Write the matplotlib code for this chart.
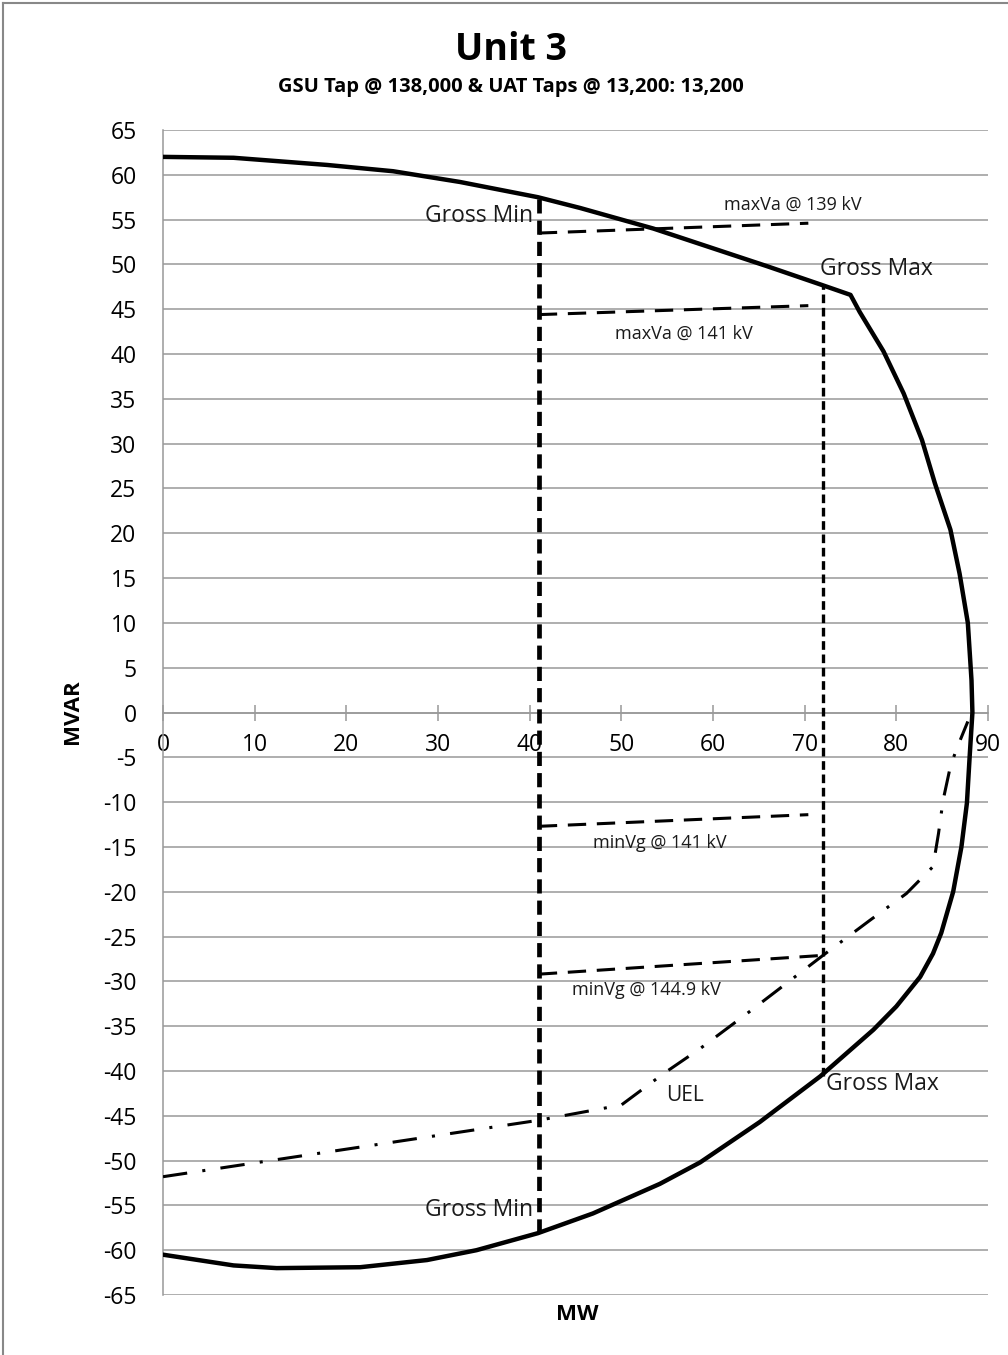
import matplotlib.pyplot as plt
from matplotlib.lines import Line2D
import numpy as np

plt.rcParams['font.family'] = ['Open Sans', 'DejaVu Sans']
plt.rcParams['axes.unicode_minus'] = False

# --- data ---
# capability curve (MW, MVAR)
cap_mw = [0, 7.7, 17.9, 25.1, 32.4, 40.9, 45.5, 53.5, 65.9, 71.9, 75.0,
          76.0, 78.6, 80.8, 82.8, 84.2, 85.9, 86.9, 87.8, 88.2, 88.3,
          88.0, 87.7, 87.1, 86.2, 84.9, 84.0, 82.6, 80.0, 77.5, 74.6, 71.7,
          65.1, 58.6, 54.2, 46.9, 40.9, 34.2, 28.8, 21.5, 12.4, 7.7, 0]
cap_mvar = [62.0, 61.9, 61.1, 60.4, 59.2, 57.5, 56.3, 54.0, 49.8, 47.7, 46.6,
            44.7, 40.3, 35.6, 30.4, 25.6, 20.4, 15.5, 10.0, 3.6, 0,
            -4.9, -10.1, -15.0, -20.0, -24.6, -26.9, -29.5, -32.8, -35.4, -38.0, -40.6,
            -45.7, -50.2, -52.6, -55.9, -58.1, -60.0, -61.1, -61.9, -62.0, -61.7, -60.5]

# under-excitation limit
uel_mw = [0, 41, 50, 54.6, 58.6, 63.7, 72, 77.1, 81.1, 84.0, 84.6, 85.1, 85.9, 86.6, 87.8]
uel_mvar = [-51.8, -45.5, -43.8, -40.3, -37.5, -33.6, -27.1, -23.2, -20.2, -17.2,
            -13.5, -9.8, -6.0, -4.0, -1.0]

gross_min_mw = 41
gross_min_q = [-58.1, 57.5]
gross_max_mw = 72
gross_max_q = [-40.6, 47.7]

maxva139_mw, maxva139_q = [41, 70.4], [53.5, 54.6]
maxva141_mw, maxva141_q = [41, 70.4], [44.4, 45.4]
minvg141_mw, minvg141_q = [41, 70.4], [-12.7, -11.4]
minvg1449_mw, minvg1449_q = [41, 72], [-29.2, -27.1]

W, H = 1008, 1355
fig = plt.figure(figsize=(W / 100, H / 100), dpi=100)
ax = fig.add_axes([163 / W, 1 - 1295 / H, (988 - 163) / W, (1295 - 130) / H])

grid_c = '#999999'
for yv in range(-65, 66, 5):
    ax.axhline(yv, color=grid_c, lw=1.1, zorder=1)

ax.plot(cap_mw, cap_mvar, color='black', lw=3.2, zorder=5)
ax.plot(uel_mw, uel_mvar, color='black', lw=2.2, dashes=(8, 5, 1, 5), zorder=4)

ax.plot([gross_min_mw] * 2, gross_min_q, color='black', lw=3.4, dashes=(3, 1.5), zorder=4)
ax.plot([gross_max_mw] * 2, gross_max_q, color='black', lw=2.4, dashes=(2.6, 1.4), zorder=4)

for xs, ys in [(maxva139_mw, maxva139_q), (maxva141_mw, maxva141_q),
               (minvg141_mw, minvg141_q), (minvg1449_mw, minvg1449_q)]:
    ax.plot(xs, ys, color='black', lw=2.2, dashes=(6, 3.5), zorder=4)

lab_c = '#1a1a1a'
big, small = 16.5, 13
ax.text(40.4, 55.4, 'Gross Min', ha='right', va='center', fontsize=big, color=lab_c)
ax.text(71.7, 49.5, 'Gross Max', ha='left', va='center', fontsize=big, color=lab_c)
ax.text(68.7, 56.7, 'maxVa @ 139 kV', ha='center', va='center', fontsize=small, color=lab_c)
ax.text(56.8, 42.3, 'maxVa @ 141 kV', ha='center', va='center', fontsize=small, color=lab_c)
ax.text(54.2, -14.6, 'minVg @ 141 kV', ha='center', va='center', fontsize=small, color=lab_c)
ax.text(52.7, -31.0, 'minVg @ 144.9 kV', ha='center', va='center', fontsize=small, color=lab_c)
ax.text(54.9, -42.7, 'UEL', ha='left', va='center', fontsize=15, color=lab_c)
ax.text(72.3, -41.5, 'Gross Max', ha='left', va='center', fontsize=big, color=lab_c)
ax.text(40.4, -55.5, 'Gross Min', ha='right', va='center', fontsize=big, color=lab_c)

ax.set_xlim(0, 90)
ax.set_ylim(-65, 65)
ax.set_yticks(range(-65, 66, 5))
ax.set_xticks(range(0, 91, 10))

for s in ['top', 'right']:
    ax.spines[s].set_visible(False)
ax.spines['left'].set_color(grid_c)
ax.spines['left'].set_linewidth(1.1)
ax.spines['bottom'].set_position(('data', 0))
ax.spines['bottom'].set_color(grid_c)
ax.spines['bottom'].set_linewidth(1.1)

ax.tick_params(axis='y', length=0, pad=19, labelsize=16.5)
ax.tick_params(axis='x', direction='inout', length=12, width=1.1, color=grid_c,
               pad=9, labelsize=16.5)

fig.text(511 / W, 1 - 50 / H, 'Unit 3', ha='center', va='center', fontsize=27, fontweight='bold')
fig.text(511 / W, 1 - 87 / H, 'GSU Tap @ 138,000 & UAT Taps @ 13,200: 13,200',
         ha='center', va='center', fontsize=14.5, fontweight='bold')
fig.text(72 / W, 1 - 712 / H, 'MVAR', ha='center', va='center', rotation=90,
         fontsize=16, fontweight='bold')
fig.text(577 / W, 1 - 1315 / H, 'MW', ha='center', va='center', fontsize=16, fontweight='bold')

# chart frame
fig.add_artist(Line2D([3 / W, 3 / W], [0, 1 - 3 / H], color='#888888', lw=1.5))
fig.add_artist(Line2D([3 / W, 1], [1 - 3 / H, 1 - 3 / H], color='#888888', lw=1.5))

fig.savefig('out.png', dpi=100)
